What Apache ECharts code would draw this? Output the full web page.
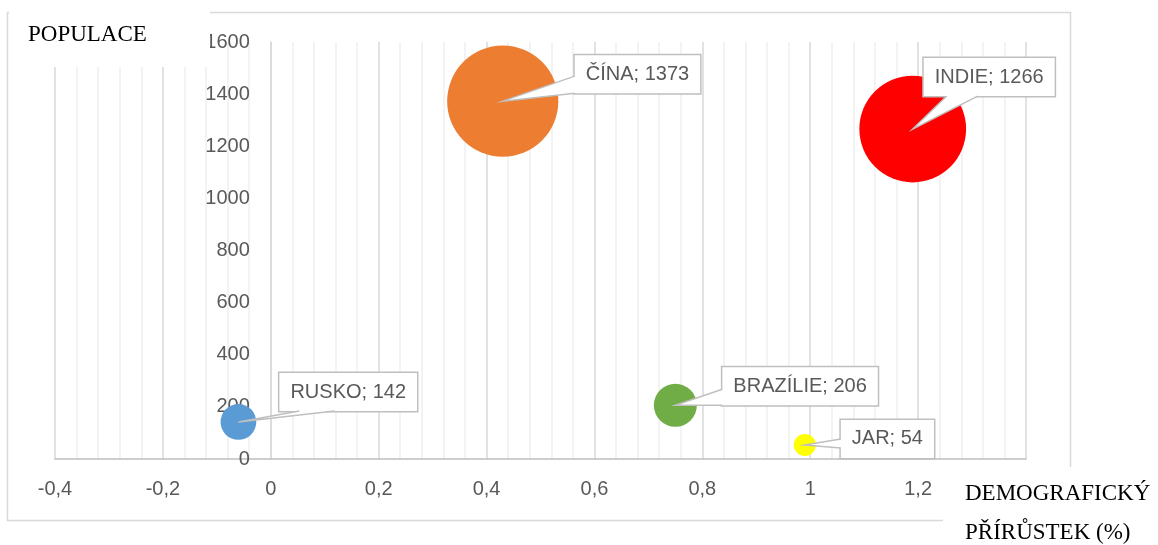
<!DOCTYPE html>
<html>
<head>
<meta charset="utf-8">
<script src="https://cdn.jsdelivr.net/npm/echarts@6/dist/echarts.min.js"></script>
<style>
  html, body { margin: 0; padding: 0; background: #fff; }
  #chart { width: 1158px; height: 545px; }
</style>
</head>
<body>
<div id="chart"></div>
<script>
// data
const countries = ['RUSKO', 'ČÍNA', 'INDIE', 'BRAZÍLIE', 'JAR'];
const growth = [-0.06, 0.43, 1.19, 0.75, 0.99];      // demografický přírůstek (%)
const population = [142, 1373, 1266, 206, 54];        // populace (mil.)
const bubbleColors = ['#5B9BD5', '#ED7D31', '#FF0000', '#70AD47', '#FFFF00'];

// callout boxes: top-left offset from the bubble centre, wedge edge + span
const calloutOffset = [[41, -49], [72, -46], [11, -71], [47, -38], [36, -25]];
const calloutWedge = [['bottom', 20, 55], ['left', 21, 38], ['bottom', 23, 54], ['left', 22, 38], ['left', 19, 28]];
const BOX_H = 38;

const labelFont = '20px "Liberation Sans", Arial, sans-serif';
const titleFont = '23px "Liberation Serif", "Times New Roman", serif';
const GRID_LEFT = 55;

const chart = echarts.init(document.getElementById('chart'));

const points = growth.map((g, i) => [g, population[i]]);

const option = {
  animation: false,
  grid: { left: GRID_LEFT, right: 132, top: 42, bottom: 86, containLabel: false, outerBoundsMode: 'none' },
  xAxis: {
    type: 'value',
    min: -0.4,
    max: 1.4,
    interval: 0.2,
    axisLine: { show: true, onZero: true, lineStyle: { color: '#BFBFBF', width: 1.5 } },
    axisTick: { show: false },
    axisLabel: {
      color: '#595959',
      fontSize: 20,
      fontFamily: '"Liberation Sans", Arial, sans-serif',
      margin: 20,
      formatter: v => String(+v.toFixed(2)).replace('.', ',')
    },
    splitLine: { show: true, lineStyle: { color: '#D9D9D9', width: 1.5 } },
    minorTick: { show: false, splitNumber: 5 },
    minorSplitLine: { show: true, lineStyle: { color: '#F0F0F0', width: 1.5 } }
  },
  yAxis: {
    type: 'value',
    min: 0,
    max: 1600,
    interval: 200,
    axisLine: { show: true, onZero: true, lineStyle: { color: '#D9D9D9', width: 1.5 } },
    axisTick: { show: false },
    splitLine: { show: false },
    axisLabel: {
      color: '#595959',
      fontSize: 20,
      fontFamily: '"Liberation Sans", Arial, sans-serif',
      margin: 21,
      formatter: v => String(v)
    }
  },
  series: [
    {
      type: 'scatter',
      z: 2,
      silent: true,
      data: points.map((p, i) => ({ value: p, itemStyle: { color: bubbleColors[i], opacity: 1 } })),
      symbolSize: val => 3.0 * Math.sqrt(val[1])
    },
    {
      type: 'custom',
      z: 3,
      silent: true,
      data: points,
      renderItem: function (params, api) {
        const i = params.dataIndex;
        const p = api.coord([api.value(0), api.value(1)]);
        const off = calloutOffset[i];
        const w = calloutWedge[i];
        const left = p[0] + off[0];
        const top = p[1] + off[1];
        let b1, b2, c1, c2;
        if (w[0] === 'left') {
          b1 = [left, top + w[1]];
          b2 = [left, top + w[2]];
          c1 = [left + 2, top + w[1]];
          c2 = [left + 2, top + w[2] - 1];
        } else {
          const bottom = top + BOX_H;
          b1 = [left + w[1], bottom];
          b2 = [left + w[2], bottom];
          c1 = [left + w[1], bottom - 2];
          c2 = [left + w[2], bottom - 2];
        }
        return {
          type: 'group',
          children: [
            {
              type: 'text',
              x: left,
              y: top,
              z2: 1,
              style: {
                text: countries[i] + '; ' + population[i],
                font: labelFont,
                fill: '#595959',
                align: 'left',
                verticalAlign: 'top',
                backgroundColor: '#fff',
                borderColor: '#BFBFBF',
                borderWidth: 1.5,
                padding: [8, 11, 8, 11],
                lineHeight: 22
              }
            },
            {
              type: 'polygon',
              z2: 2,
              shape: { points: [p, b1, c1, c2, b2] },
              style: { fill: '#fff' }
            },
            {
              type: 'polyline',
              z2: 3,
              shape: { points: [b1, p, b2] },
              style: { stroke: '#BFBFBF', lineWidth: 1.5, fill: null }
            }
          ]
        };
      }
    }
  ],
  graphic: [
    {
      type: 'rect',
      z: -10,
      silent: true,
      shape: { x: 7.5, y: 12.5, width: 1063, height: 508 },
      style: { fill: null, stroke: '#D9D9D9', lineWidth: 1.5 }
    },
    {
      type: 'rect',
      z: 100,
      silent: true,
      shape: { x: 9, y: 0, width: 201, height: 67 },
      style: { fill: '#fff' }
    },
    {
      type: 'text',
      z: 101,
      silent: true,
      x: 28,
      y: 35,
      style: { text: 'POPULACE', font: titleFont, fill: '#000', verticalAlign: 'middle' }
    },
    {
      type: 'rect',
      z: 100,
      silent: true,
      shape: { x: 943, y: 467, width: 215, height: 78 },
      style: { fill: '#fff' }
    },
    {
      type: 'text',
      z: 101,
      silent: true,
      x: 965,
      y: 494,
      style: { text: 'DEMOGRAFICKÝ', font: titleFont, fill: '#000', verticalAlign: 'middle' }
    },
    {
      type: 'text',
      z: 101,
      silent: true,
      x: 965,
      y: 533,
      style: { text: 'PŘÍRŮSTEK (%)', font: titleFont, fill: '#000', verticalAlign: 'middle' }
    }
  ]
};

chart.setOption(option);

// the value axis crosses the horizontal axis at x = 0: move it there
const zeroX = chart.convertToPixel({ xAxisIndex: 0 }, 0);
chart.setOption({ yAxis: { offset: GRID_LEFT - zeroX } });
</script>
</body>
</html>
